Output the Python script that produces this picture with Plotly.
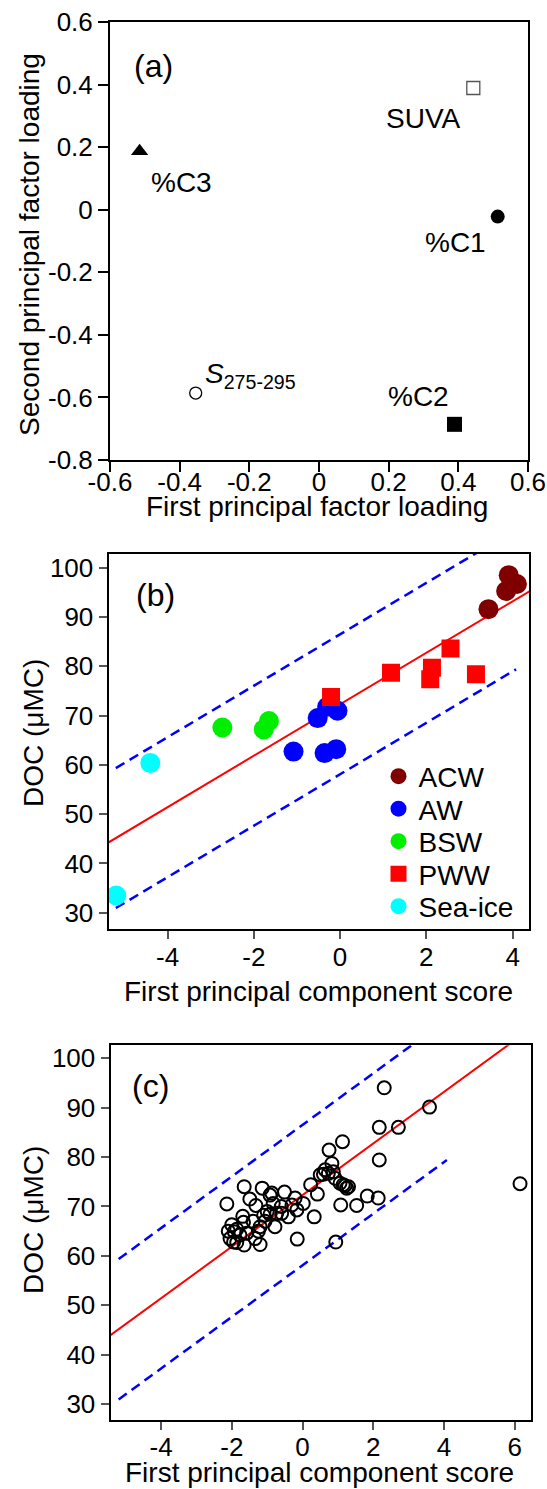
import plotly.graph_objects as go

W, H = 547, 1489

# ---------------- Panel (a) data ----------------
a_labels = ["SUVA", "%C3", "%C1", "S275-295", "%C2"]
a_x = [0.443, -0.515, 0.513, -0.354, 0.389]
a_y = [0.389, 0.187, -0.022, -0.586, -0.686]
a_ticks_x = [-0.6, -0.4, -0.2, 0, 0.2, 0.4, 0.6]
a_ticks_y = [-0.8, -0.6, -0.4, -0.2, 0, 0.2, 0.4, 0.6]

# ---------------- Panel (b) data ----------------
acw_x = [3.91, 4.10, 3.85, 3.44]
acw_y = [98.5, 96.7, 95.3, 91.6]
aw_x = [-0.52, -0.06, -0.30, -1.08, -0.36, -0.09]
aw_y = [69.5, 71.0, 71.8, 62.7, 62.4, 63.2]
bsw_x = [-2.73, -1.77, -1.65]
bsw_y = [67.6, 67.2, 68.9]
pww_x = [-0.21, 1.18, 2.13, 2.09, 2.56, 3.15]
pww_y = [73.8, 78.7, 79.7, 77.4, 83.6, 78.4]
ice_x = [-4.40, -5.19]
ice_y = [60.4, 33.5]

# regression line and prediction band
reg_slope = 5.22
reg_intercept = 72.3
band_half = 14.2
band_x_range = [-5.2, 4.08]

# ---------------- Panel (c) data ----------------
c_x = [2.31, 3.59, 2.17, 2.71, 1.13, 0.75, 2.17, 6.15,
       0.83, 0.64, 0.50, 0.73, 0.92, 0.59, 0.87, 1.15, 1.25, 1.06, 1.30, 1.20,
       0.23, 0.42, 1.83, 2.14, 1.08, 1.53, 0.94, 0.33,
       -0.15, 0.02, -0.21, -0.51, -0.16, -0.40, -0.83, -0.92, -1.14, -1.65,
       -1.49, -1.32, -2.14, -1.69, -2.00, -1.86, -2.05, -1.86, -1.65, -1.58,
       -1.34, -1.20, -1.25, -1.06, -0.92, -0.78, -1.93, -1.77, -0.59, -0.73,
       -0.87, -1.20, -1.67, -1.00, -0.60, -0.30, -1.40, -1.10, -2.10, -1.95]
c_y = [94.0, 90.1, 86.0, 86.0, 83.1, 81.4, 79.4, 74.6,
       78.7, 77.4, 76.4, 76.7, 75.7, 76.5, 77.0, 74.4, 73.7, 74.7, 74.0, 74.2,
       74.4, 72.5, 72.1, 71.7, 70.3, 70.2, 62.8, 67.9,
       63.4, 70.6, 71.7, 72.9, 69.3, 67.9, 70.6, 72.3, 73.7, 74.0,
       71.5, 70.2, 70.5, 68.0, 66.3, 65.4, 63.5, 62.7, 62.2, 64.6,
       63.5, 62.3, 65.0, 67.0, 68.4, 65.9, 64.9, 64.2, 68.6, 68.6,
       72.7, 65.9, 66.8, 69.0, 70.0, 70.3, 67.0, 68.2, 65.0, 62.8]

doc_ticks = [30, 40, 50, 60, 70, 80, 90, 100]
b_ticks_x = [-4, -2, 0, 2, 4]
c_ticks_x = [-4, -2, 0, 2, 4, 6]

FONT = "Liberation Sans, Arial, Helvetica, sans-serif"


def lbl(v):
    return "%g" % v


def px_x(p):
    return p / W


def px_y(p):
    return 1 - p / H


fig = go.Figure()

# ---- (a) ----
fig.add_trace(go.Scatter(x=[a_x[0]], y=[a_y[0]], mode="markers", showlegend=False,
                         marker=dict(symbol="square-open", size=13, color="#555", line=dict(width=1.3)),
                         xaxis="x", yaxis="y"))
fig.add_trace(go.Scatter(x=[a_x[1]], y=[a_y[1]], mode="markers", showlegend=False,
                         marker=dict(symbol="triangle-up", size=15, color="black"),
                         xaxis="x", yaxis="y"))
fig.add_trace(go.Scatter(x=[a_x[2]], y=[a_y[2]], mode="markers", showlegend=False,
                         marker=dict(symbol="circle", size=14, color="black"),
                         xaxis="x", yaxis="y"))
fig.add_trace(go.Scatter(x=[a_x[3]], y=[a_y[3]], mode="markers", showlegend=False,
                         marker=dict(symbol="circle-open", size=12, color="black", line=dict(width=1.3)),
                         xaxis="x", yaxis="y"))
fig.add_trace(go.Scatter(x=[a_x[4]], y=[a_y[4]], mode="markers", showlegend=False,
                         marker=dict(symbol="square", size=15, color="black"),
                         xaxis="x", yaxis="y"))


def add_lines(xa, ya, xr):
    full = [xr[0] - 1, xr[1] + 3]
    fig.add_trace(go.Scatter(x=full, y=[reg_intercept + reg_slope * v for v in full], mode="lines",
                             line=dict(color="#FF0000", width=2), showlegend=False,
                             xaxis=xa, yaxis=ya, hoverinfo="skip"))
    for sgn in (1, -1):
        fig.add_trace(go.Scatter(x=band_x_range,
                                 y=[reg_intercept + reg_slope * v + sgn * band_half for v in band_x_range],
                                 mode="lines", line=dict(color="#0000FF", width=2.5, dash="10px,6px"),
                                 showlegend=False, xaxis=xa, yaxis=ya, hoverinfo="skip"))


# ---- (b) ----
b_xrange = [-5.37, 4.38]
add_lines("x2", "y2", b_xrange)
groups = [
    ("ACW", acw_x, acw_y, "circle", "#800000", 20, "legend"),
    ("AW", aw_x, aw_y, "circle", "#0000FF", 20, "legend2"),
    ("BSW", bsw_x, bsw_y, "circle", "#00EE00", 20, "legend3"),
    ("PWW", pww_x, pww_y, "square", "#FF0000", 18, "legend4"),
    ("Sea-ice", ice_x, ice_y, "circle", "#00FFFF", 20, "legend5"),
]
for name, gx, gy, sym, col, sz, lg in groups:
    fig.add_trace(go.Scatter(x=gx, y=gy, mode="markers", name=name, legend=lg,
                             marker=dict(symbol=sym, size=sz, color=col),
                             xaxis="x2", yaxis="y2"))

# ---- (c) ----
c_xrange = [-5.43, 6.46]
add_lines("x3", "y3", c_xrange)
fig.add_trace(go.Scatter(x=c_x, y=c_y, mode="markers", showlegend=False,
                         marker=dict(symbol="circle-open", size=13, color="black", line=dict(width=2)),
                         xaxis="x3", yaxis="y3"))

axis_common = dict(showline=True, linecolor="black", linewidth=2, mirror=True, ticks="outside",
                   showgrid=False, zeroline=False, automargin=False,
                   tickfont=dict(size=26, color="black", family=FONT))

layout = dict(
    width=W, height=H, margin=dict(l=0, r=0, t=0, b=0, pad=0, autoexpand=False),
    paper_bgcolor="white", plot_bgcolor="white",
    font=dict(family=FONT, color="black"),
    xaxis=dict(domain=[px_x(110), px_x(528)], range=[-0.6, 0.6], anchor="y",
               tickvals=a_ticks_x, ticktext=[lbl(v) for v in a_ticks_x], ticklabelstandoff=-12,
               ticklen=10, tickwidth=1.5, tickcolor="black", **axis_common),
    yaxis=dict(domain=[px_y(460), px_y(22)], range=[-0.8, 0.6], anchor="x",
               tickvals=a_ticks_y, ticktext=[lbl(v) for v in a_ticks_y],
               ticklen=10, tickwidth=1.5, tickcolor="black", **axis_common),
    xaxis2=dict(domain=[px_x(108.5), px_x(529)], range=b_xrange, anchor="y2",
                tickvals=b_ticks_x, ticktext=[lbl(v) for v in b_ticks_x], ticklabelstandoff=-4,
                ticklen=8, tickwidth=1.5, tickcolor="#555", **axis_common),
    yaxis2=dict(domain=[px_y(929), px_y(553.5)], range=[26.7, 102.9], anchor="x2",
                tickvals=doc_ticks, ticktext=[lbl(v) for v in doc_ticks],
                ticklen=8, tickwidth=1.5, tickcolor="#555", **axis_common),
    xaxis3=dict(domain=[px_x(110.5), px_x(531)], range=c_xrange, anchor="y3",
                tickvals=c_ticks_x, ticktext=[lbl(v) for v in c_ticks_x], ticklabelstandoff=-5,
                ticklen=8, tickwidth=1.5, tickcolor="#555", **axis_common),
    yaxis3=dict(domain=[px_y(1420), px_y(1045.3)], range=[26.8, 102.6], anchor="x3",
                tickvals=doc_ticks, ticktext=[lbl(v) for v in doc_ticks],
                ticklen=8, tickwidth=1.5, tickcolor="#555", **axis_common),
)

leg_centers = [776.5, 809, 841.5, 874, 906.5]
for i, cy in enumerate(leg_centers):
    key = "legend" if i == 0 else "legend%d" % (i + 1)
    layout[key] = dict(x=px_x(378.5), y=px_y(cy), xanchor="left", yanchor="middle",
                       bgcolor="rgba(0,0,0,0)", font=dict(size=28, family=FONT, color="black"),
                       itemclick=False, itemdoubleclick=False, tracegroupgap=0)

fig.update_layout(**layout)

ann = []
# axis titles
ann.append(dict(text="First principal factor loading", x=px_x(317), y=px_y(507), xref="paper", yref="paper",
                showarrow=False, font=dict(size=28), xanchor="center", yanchor="middle"))
ann.append(dict(text="Second principal factor loading", x=px_x(30), y=px_y(245), xref="paper", yref="paper",
                showarrow=False, font=dict(size=28), textangle=-90, xanchor="center", yanchor="middle"))
ann.append(dict(text="First principal component score", x=px_x(318), y=px_y(991), xref="paper", yref="paper",
                showarrow=False, font=dict(size=28), xanchor="center", yanchor="middle"))
ann.append(dict(text="DOC (μMC)", x=px_x(33), y=px_y(733), xref="paper", yref="paper",
                showarrow=False, font=dict(size=28), textangle=-90, xanchor="center", yanchor="middle"))
ann.append(dict(text="First principal component score", x=px_x(319), y=px_y(1472), xref="paper", yref="paper",
                showarrow=False, font=dict(size=28), xanchor="center", yanchor="middle"))
ann.append(dict(text="DOC (μMC)", x=px_x(33), y=px_y(1220), xref="paper", yref="paper",
                showarrow=False, font=dict(size=28), textangle=-90, xanchor="center", yanchor="middle"))
# panel letters
for t, cx, cy in [("(a)", 153, 66), ("(b)", 155.5, 595), ("(c)", 150, 1086)]:
    ann.append(dict(text=t, x=px_x(cx), y=px_y(cy), xref="paper", yref="paper", showarrow=False,
                    font=dict(size=32), xanchor="center", yanchor="middle"))
# loading labels (panel a), in data coordinates
ann.append(dict(text="SUVA", x=0.299, y=0.29, xref="x", yref="y", showarrow=False, font=dict(size=28)))
ann.append(dict(text="%C3", x=-0.394, y=0.087, xref="x", yref="y", showarrow=False, font=dict(size=28)))
ann.append(dict(text="%C1", x=0.391, y=-0.105, xref="x", yref="y", showarrow=False, font=dict(size=28)))
ann.append(dict(text="<i>S</i><sub>275-295</sub>", x=-0.333, y=-0.53, xref="x", yref="y", showarrow=False,
                font=dict(size=28), xanchor="left"))
ann.append(dict(text="%C2", x=0.287, y=-0.598, xref="x", yref="y", showarrow=False, font=dict(size=28)))

fig.update_layout(annotations=ann)
fig.write_html("out.html", config={"responsive": False, "displayModeBar": False},
               post_script="document.body.style.margin='0';document.body.style.overflow='hidden';")
